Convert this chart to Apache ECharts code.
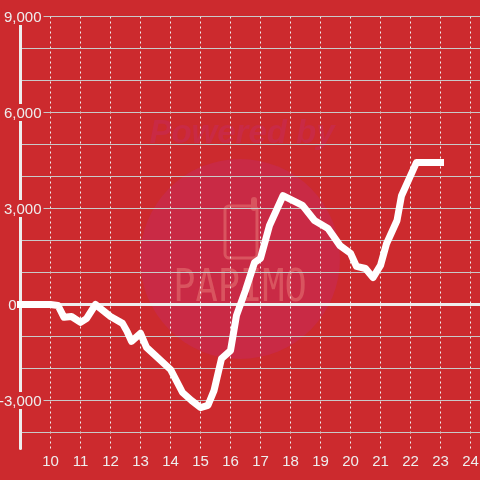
<!DOCTYPE html>
<html><head><meta charset="utf-8">
<style>html,body{margin:0;padding:0;background:#cc2a2e}#c{width:480px;height:480px}</style>
<script src="https://cdn.jsdelivr.net/npm/echarts@6/dist/echarts.min.js"></script>
</head><body><div id="c"></div>
<script>
const hours=[9,10,10.25,10.45,10.7,11,11.2,11.5,12,12.4,12.55,12.7,13,13.2,14,14.4,14.7,15,15.25,15.45,15.7,16,16.2,16.5,16.8,17,17.3,17.75,18.4,18.8,19.25,19.65,20,20.2,20.5,20.75,21,21.2,21.55,21.7,22.2,23];
const values=[0,0,-30,-400,-375,-560,-440,0,-375,-590,-840,-1150,-900,-1340,-2030,-2750,-3000,-3220,-3150,-2690,-1690,-1440,-340,440,1310,1440,2470,3400,3100,2625,2375,1840,1600,1190,1125,840,1220,1900,2625,3400,4440,4440];
const xMin=9,xMax=24.3167,yMin=-4500,yMax=9000;
const labelledY=[9000,6000,3000,0,-3000];
const gridY=[9000,8000,7000,6000,5000,4000,3000,2000,1000,-1000,-2000,-3000,-4000];
const chart=echarts.init(document.getElementById('c'),null,{renderer:'canvas'});
const red='#cc2a2e',wm='#c92a45',wmLine='#d9545f',fg='#eeeeee';
chart.setOption({
 backgroundColor:red,animation:false,
 grid:{left:20.5,right:0,top:16.5,bottom:31.5,containLabel:false,outerBoundsMode:'none'},
 graphic:[
  {type:'circle',z:-10,shape:{cx:240,cy:259,r:100},style:{fill:wm}},
  {type:'text',z:-10,x:242,y:134,style:{text:'Powered by',font:'italic bold 33px "Liberation Sans"',fill:wm,align:'center',verticalAlign:'middle'}},
  {type:'rect',z:-9,shape:{x:225,y:206,width:32,height:52,r:4},style:{fill:'none',stroke:wmLine,lineWidth:3}},
  {type:'line',z:-9,shape:{x1:254,y1:200,x2:254,y2:208},style:{stroke:wmLine,lineWidth:6,lineCap:'round'}},
  {type:'text',z:-9,x:240,y:289,scaleY:1.2,style:{text:'PAPIMO',font:'37px "DejaVu Sans Mono"',fill:wmLine,align:'center',verticalAlign:'middle'}}
 ],
 xAxis:{type:'value',min:xMin,max:xMax,interval:1,
  axisLine:{show:false},axisTick:{show:false},
  axisLabel:{color:fg,fontSize:15,fontFamily:'Liberation Sans',margin:6,showMinLabel:false,showMaxLabel:false,hideOverlap:false},
  splitLine:{show:true,showMinLine:false,showMaxLine:false,lineStyle:{color:'#f0f0f0',type:[2,3],width:1}}},
 yAxis:{type:'value',min:yMin,max:yMax,interval:500,z:3,
  axisLine:{show:true,onZero:false,lineStyle:{color:fg,width:3}},axisTick:{show:false},
  axisLabel:{margin:-23,align:'right',fontFamily:'Liberation Sans',showMinLabel:false,
   formatter:v=>labelledY.includes(v)?(v===0?'{z|0}':'{a|'+v.toLocaleString('en-US')+'}'):'',
   rich:{a:{color:fg,fontSize:15,fontFamily:'Liberation Sans',backgroundColor:red,padding:[2,2,0,2]},
         z:{color:fg,fontSize:15,fontFamily:'Liberation Sans',padding:[2,27,0,0]}}},
  splitLine:{show:false}},
 series:[
  {type:'line',data:[],z:1,silent:true,
   markLine:{silent:true,symbol:'none',label:{show:false},animation:false,z:1,
    data:gridY.map(v=>({yAxis:v})),lineStyle:{color:'#c9c9c9',width:1,type:'solid'}}},
  {type:'line',data:hours.map((h,i)=>[h,values[i]]),showSymbol:false,symbol:'none',clip:false,z:5,
   lineStyle:{color:'#ffffff',width:7,cap:'square',join:'round'},
   markLine:{silent:true,symbol:'none',label:{show:false},animation:false,z:2,
    data:[{yAxis:0}],lineStyle:{color:fg,width:3,type:'solid'}}}]
});
</script></body></html>
